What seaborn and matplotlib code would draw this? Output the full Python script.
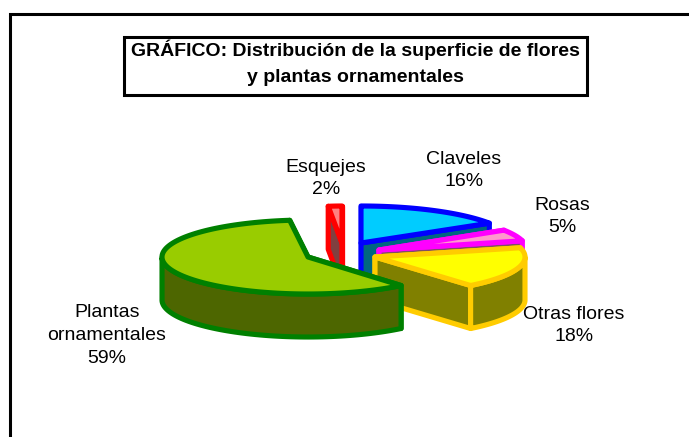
import numpy as np
import matplotlib
matplotlib.use("Agg")
import matplotlib.pyplot as plt
import seaborn as sns

sns.set_theme(style="white")
plt.rcParams['font.family'] = ['Liberation Sans', 'DejaVu Sans']

# data
categories = ["Claveles", "Rosas", "Otras flores", "Plantas\nornamentales", "Esquejes"]
values = [16, 5, 18, 59, 2]

# styles
top_colors = ["#00CCFF", "#FF99CC", "#FFFF00", "#99CC00", "#FF8080"]
side_colors = ["#006680", "#804D66", "#808000", "#4D6600", "#804040"]
edge_colors = ["#0000FF", "#FF00FF", "#FFCC00", "#008000", "#FF0000"]
apexes = [(361, 243), (379, 250), (375, 257), (308, 257), (342, 243)]
radii_x = [152, 148, 150, 146, 110]
label_pos = [(464, 170.5), (562, 216.5), (574, 325.5), (107, 335.5), (326, 178.5)]
draw_order = [0, 1, 4, 2, 3]
RY, DEPTH = 37, 43
LW = 3.7

fig = plt.figure(figsize=(6.89, 4.37), dpi=100)
ax = fig.add_axes([0, 0, 1, 1])
ax.set_xlim(0, 689)
ax.set_ylim(437, 0)
ax.axis("off")

ax.add_patch(plt.Rectangle((10, 14), 700, 500, fc="white", ec="black", lw=2.2, zorder=0))

fractions = np.array(values) / sum(values)
ends = np.cumsum(fractions) * 2 * np.pi
starts = ends - fractions * 2 * np.pi


def rim(cx, cy, rx, t):
    return cx + rx * np.sin(t), cy - RY * np.cos(t)


z = 1
for i in draw_order:
    cx, cy = apexes[i]
    ts = np.linspace(starts[i], ends[i], 120)
    x, y = rim(cx, cy, radii_x[i], ts)
    style = dict(ec=edge_colors[i], lw=LW, joinstyle="round")
    # cut faces, back to front
    for t in sorted([starts[i], ends[i]], key=lambda a: -np.cos(a)):
        rx, ry = rim(cx, cy, radii_x[i], t)
        ax.fill([cx, rx, rx, cx], [cy, ry, ry + DEPTH, cy + DEPTH],
                fc=side_colors[i], zorder=z, **style)
        z += 1
    # outer wall: only the part facing the viewer
    front = np.cos(ts) <= 0
    if front.any():
        wx, wy = x[front], y[front]
        ax.fill(np.r_[wx, wx[::-1]], np.r_[wy, wy[::-1] + DEPTH],
                fc=side_colors[i], zorder=z, **style)
        z += 1
    # top face
    ax.fill(np.r_[cx, x], np.r_[cy, y], fc=top_colors[i], zorder=z, **style)
    z += 1

for name, v, (lx, ly) in zip(categories, values, label_pos):
    ax.text(lx, ly, f"{name}\n{v}%", ha="center", va="center", fontsize=14,
            color="black", linespacing=1.45, zorder=50)

ax.text(355, 62.5, "GRÁFICO: Distribución de la superficie de flores\ny plantas ornamentales",
        ha="center", va="center", fontsize=14, fontweight="bold", color="black", linespacing=1.7,
        zorder=60)
ax.add_patch(plt.Rectangle((124, 36.5), 463, 58.5, fc="none", ec="black", lw=2.2, zorder=59))

fig.savefig("out.png", dpi=100, facecolor="white")
